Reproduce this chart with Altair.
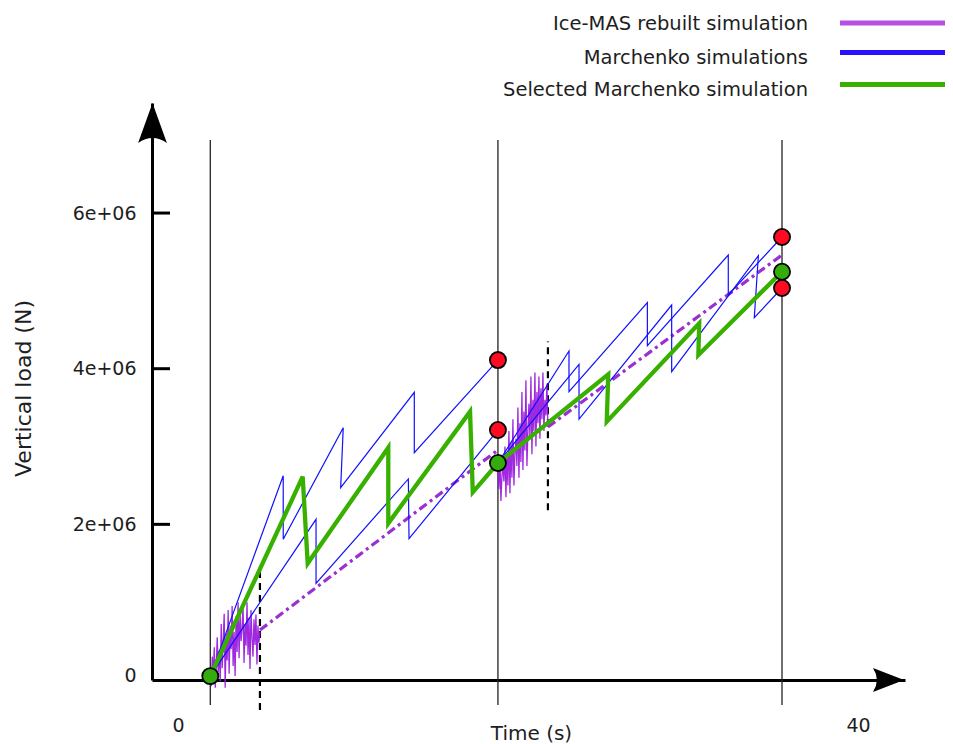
import altair as alt
import numpy as np
import pandas as pd

M = 1e6  # loads below are read in units of 1e6 N

# ---- event times (s) ----
event_t = [1.9, 18.82, 35.53]
event_bottom = [-0.32, -0.32, -0.32]
event_top = [6.94, 6.94, 6.94]
window_t = [4.82, 21.76]
window_bottom = [-0.385, 2.18]
window_top = [1.39, 4.35]

# ---- Marchenko simulations (blue) ----
blue_a_t = [1.9, 6.19, 6.19, 9.72, 9.57, 13.9, 13.9, 18.82]
blue_a_v = [0.05, 2.625, 1.808, 3.242, 2.471, 3.697, 2.921, 4.111]
blue_b_t = [1.9, 8.12, 8.12, 13.55, 13.59, 18.82]
blue_b_v = [0.05, 2.065, 1.242, 2.583, 1.816, 3.212]
blue_c_t = [18.82, 23.0, 23.0, 27.61, 27.61, 32.37, 32.37, 35.53]
blue_c_v = [2.788, 4.227, 3.704, 4.848, 4.295, 5.461, 4.947, 5.692]
blue_d_t = [18.82, 23.59, 23.59, 29.04, 29.04, 34.14, 33.9, 35.53]
blue_d_v = [2.788, 4.056, 3.353, 4.818, 3.961, 5.452, 4.655, 5.037]

# ---- Selected Marchenko simulation (green) ----
green_1_t = [1.9, 7.335, 7.63, 12.37, 12.37, 17.18, 17.34, 18.82]
green_1_v = [0.05, 2.612, 1.499, 2.985, 2.013, 3.448, 2.412, 2.788]
green_2_t = [18.82, 25.31, 25.22, 30.66, 30.61, 35.53]
green_2_v = [2.788, 3.928, 3.319, 4.583, 4.176, 5.246]

# ---- Ice-MAS rebuilt simulation (purple) ----
noise1_v = [0.02, -0.08, 0.3, 0.05, 0.42, -0.1, 0.2, 0.55, 0.1, 0.38, -0.02,
            0.72, 0.15, 0.5, 0.85, -0.1, 0.6, 0.25, 0.9, 0.08, 0.7, 0.4, 0.95, 0.18, 0.62, 0.05, 0.82,
            0.36, 1.0, 0.28, 0.86, 0.5, 0.66, 0.95, 0.22, 0.72, 0.44, 1.0, 0.32, 0.8, 0.14, 0.9, 0.55,
            0.3, 0.78, 0.45, 0.84, 0.2, 0.7, 0.48, 0.62]
noise2_v = [2.72, 2.45, 2.85, 2.3, 2.62, 2.75, 2.55, 3.0, 2.35, 2.9, 2.5,
            3.2, 2.4, 3.05, 2.6, 3.35, 2.5, 2.9, 3.1, 2.75, 3.5, 2.6, 3.3, 2.8,
            3.7, 2.7, 3.45, 2.95, 3.85, 2.75, 3.2, 3.55, 3.1, 3.9, 2.9, 3.6, 3.2, 3.95, 3.0, 3.7,
            3.3, 3.9, 3.1, 3.75, 3.35, 3.95, 3.2, 3.6, 3.4, 3.8, 3.25]
dd_a_t = [4.82, 18.82]
dd_a_v = [0.642, 2.955]
dd_b_t = [21.76, 35.53]
dd_b_v = [3.251, 5.461]

# ---- end-of-window points ----
red_t = [18.82, 18.82, 35.53, 35.53]
red_v = [4.111, 3.212, 5.692, 5.037]
grn_t = [1.9, 18.82, 35.53]
grn_v = [0.05, 2.788, 5.246]

y_ticks = [0, 2e6, 4e6, 6e6]
x_ticks = [0, 40]

legend_labels = ["Ice-MAS rebuilt simulation", "Marchenko simulations", "Selected Marchenko simulation"]
legend_colors = ["#b650e0", "#2a10ff", "#38b000"]

FONT = "DejaVu Sans"
TXT = "#1e1e1e"


def frame(name, ts, vs):
    return pd.DataFrame({"t": ts, "v": [x * M for x in vs], "line": name, "i": range(len(ts))})


blue_df = pd.concat([frame("a", blue_a_t, blue_a_v), frame("b", blue_b_t, blue_b_v),
                     frame("c", blue_c_t, blue_c_v), frame("d", blue_d_t, blue_d_v)])
green_df = pd.concat([frame("g1", green_1_t, green_1_v), frame("g2", green_2_t, green_2_v)])
noise_df = pd.concat([frame("n1", list(np.linspace(1.9, 4.82, len(noise1_v))), noise1_v),
                      frame("n2", list(np.linspace(18.82, 21.76, len(noise2_v))), noise2_v)])
dd_df = pd.concat([frame("d1", dd_a_t, dd_a_v), frame("d2", dd_b_t, dd_b_v)])

xs = alt.Scale(domain=[-1.529, 42.765], nice=False, zero=False)
ys = alt.Scale(domain=[0, 7.414e6], nice=False, zero=False)

x_axis = alt.Axis(
    values=x_ticks, format="d", domain=True, domainColor="black", domainWidth=3,
    ticks=False, grid=False, labelFont=FONT, labelFontSize=19, labelColor=TXT,
    labelPadding=36, labelFlush=False,
    titleFont=FONT, titleFontSize=20, titleFontWeight="normal",
    titleColor=TXT, titleX=379, titleY=53, titleAlign="center", titleBaseline="middle")
y_axis = alt.Axis(
    values=y_ticks, labelExpr="datum.value == 0 ? '0' : (datum.value / 1000000) + 'e+06'",
    domain=True, domainColor="black", domainWidth=3, ticks=False, grid=False,
    labelFont=FONT, labelFontSize=19, labelColor=TXT, labelPadding=16, labelFlush=True,
    labelFlushOffset=5,
    titleFont=FONT, titleFontSize=22, titleFontWeight="normal",
    titleColor=TXT, titleX=-129, titleY=285, titleAngle=270, titleAlign="center",
    titleBaseline="middle")


def X():
    return alt.X("t:Q", scale=xs, axis=x_axis, title="Time (s)")


def Y():
    return alt.Y("v:Q", scale=ys, axis=y_axis, title="Vertical load (N)")


def lines(df, color, width, dash=None, opacity=1.0):
    kw = dict(color=color, strokeWidth=width, clip=False, opacity=opacity)
    if dash:
        kw["strokeDash"] = dash
    return alt.Chart(df).mark_line(**kw).encode(x=X(), y=Y(), detail="line:N", order="i:Q")


ev_df = pd.DataFrame({"t": event_t, "v": [b * M for b in event_bottom], "v2": [t * M for t in event_top]})
events = alt.Chart(ev_df).mark_rule(color="#222222", strokeWidth=1.3, clip=False).encode(
    x=X(), y=Y(), y2="v2:Q")

win_df = pd.DataFrame({"t": window_t, "v": [b * M for b in window_bottom], "v2": [t * M for t in window_top]})
windows = alt.Chart(win_df).mark_rule(color="black", strokeWidth=2.2, strokeDash=[7, 5], clip=False).encode(
    x=X(), y=Y(), y2="v2:Q")

ytick_df = pd.DataFrame({"v": y_ticks[1:]})
yticks = alt.Chart(ytick_df).mark_rule(color="black", strokeWidth=3).encode(
    x=alt.value(0), x2=alt.value(18), y=Y())

red_df = pd.DataFrame({"t": red_t, "v": [x * M for x in red_v]})
grn_df = pd.DataFrame({"t": grn_t, "v": [x * M for x in grn_v]})
red_pts = alt.Chart(red_df).mark_point(filled=True, fill="#ff0a22", stroke="black", strokeWidth=1.8,
                                       size=260, opacity=1, clip=False).encode(x=X(), y=Y())
grn_pts = alt.Chart(grn_df).mark_point(filled=True, fill="#34ad0c", stroke="black", strokeWidth=1.8,
                                       size=260, opacity=1, clip=False).encode(x=X(), y=Y())

one = pd.DataFrame({"k": [0]})
y_arrow = alt.Chart(one).mark_point(
    shape="M0,-1L0.72,1Q0,0.5,-0.72,1Z", filled=True, color="black", opacity=1, size=1600
).encode(x=alt.value(0.5), y=alt.value(20))
x_arrow = alt.Chart(one).mark_point(
    shape="M1,0L-1,0.77Q-0.5,0,-1,-0.77Z", filled=True, color="black", opacity=1, size=961
).encode(x=alt.value(736.5), y=alt.value(577))

legend_text_y = [-79.5, -45.5, -13.5]
legend_line_y = [-80, -50.5, -18.5]
legend_layers = []
for lab, col, ty, ly in zip(legend_labels, legend_colors, legend_text_y, legend_line_y):
    legend_layers.append(alt.Chart(pd.DataFrame({"label": [lab]})).mark_text(
        align="right", baseline="middle", font=FONT, fontSize=19.5, color=TXT
    ).encode(x=alt.value(656), y=alt.value(ty), text="label:N"))
    legend_layers.append(alt.Chart(one).mark_rule(strokeWidth=5, color=col).encode(
        x=alt.value(688), x2=alt.value(800), y=alt.value(ly)))

chart = alt.layer(
    events, windows, yticks,
    lines(noise_df, "#9a1edc", 1.3, opacity=0.95),
    lines(dd_df, "#9b2fd2", 3.2, dash=[9, 4, 3, 4]),
    lines(blue_df, "#1010ff", 1.2),
    lines(green_df, "#38b000", 4.3),
    red_pts, grn_pts, y_arrow, x_arrow, *legend_layers
).properties(
    width=753, height=577,
    padding={"left": 144, "top": 95, "right": 40, "bottom": 64},
    autosize=alt.AutoSizeParams(type="none"),
    background="white",
).configure_view(stroke=None)

chart.save("out.html", embed_options={"renderer": "svg", "actions": False})
